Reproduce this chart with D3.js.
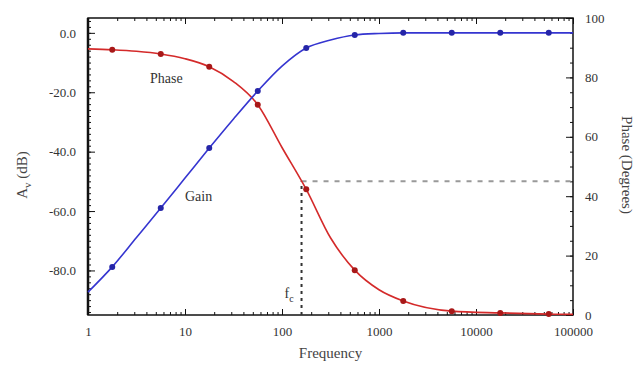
<!DOCTYPE html>
<meta charset="utf-8">
<script src="https://d3js.org/d3.v7.min.js"></script>
<body style="margin:0;background:#fff">
<div id="chart"></div>
</body>
<script>
    // frequencies of the plotted markers (half decade apart)
    const markerFreq = [1.778, 5.623, 17.78, 56.23, 177.8, 562.3, 1778, 5623, 17783, 56234];
    const gainDb = [-78.8, -59.0, -38.8, -19.6, -5.1, -0.7, 0, 0, 0, 0];
    const phaseDeg = [89.3, 87.9, 83.6, 70.8, 42.3, 15.1, 4.7, 1.3, 0.7, 0.3];

    // points
    const curveFreq = [1, 1.778, 3.162, 5.623, 10, 17.78, 31.62, 56.23, 100, 177.8, 316.2, 562.3, 1000, 1778, 5623, 17783, 56234, 100000];
    const gainCurve = [-87.3, -78.8, -68.9, -59.0, -48.9, -38.8, -29.0, -19.6, -11.2, -5.1, -2.4, -0.7, -0.2, 0, 0, 0, 0, 0];
    const phaseCurve = [89.6, 89.3, 88.8, 87.9, 86.3, 83.6, 78.6, 70.8, 56.4, 42.3, 26.0, 15.1, 8.5, 4.7, 1.3, 0.7, 0.3, 0.2];

    const cornerFreq = 159;
    const cornerPhase = 45;

    const xTicks = [1, 10, 100, 1000, 10000, 100000];
    const gainTicks = [0, -20, -40, -60, -80];
    const phaseTicks = [0, 20, 40, 60, 80, 100];

    const W = 636, H = 365;
    const margin = {top: 18, right: 63, bottom: 50, left: 88};
    const width = W - margin.left - margin.right,
        height = H - margin.top - margin.bottom;

    const FONT = "'Liberation Serif', 'Times New Roman', serif";
    const RED = "#d42a2a", BLUE = "#3535d0";

    const svg = d3.select("#chart").append("svg")
        .attr("width", W)
        .attr("height", H)
        .style("font-family", FONT);
    const g = svg.append("g")
        .attr("transform", "translate(" + margin.left + "," + margin.top + ")");

    const x = d3.scaleLog().domain([1, 100000]).range([0, width]);
    const yL = d3.scaleLinear().domain([-95, 5]).range([height, 0]);
    const yR = d3.scaleLinear().domain([0, 100]).range([height, 0]);

    // minor log ticks
    const minorX = [];
    for (let d = 1; d < 100000; d *= 10) {
        for (let k = 2; k <= 9; k++) minorX.push(d * k);
    }

    function styleAxis(sel) {
        sel.attr("font-family", FONT);
        sel.selectAll("text").style("font-family", FONT).style("font-size", "13px").attr("fill", "#333");
        sel.selectAll("line").attr("stroke", "#111");
        sel.select(".domain").remove();
    }

    // bottom axis
    g.append("g").attr("transform", "translate(0," + height + ")")
        .call(d3.axisBottom(x).tickValues(minorX).tickSize(-3).tickFormat(""))
        .call(styleAxis);
    g.append("g").attr("transform", "translate(0," + height + ")")
        .call(d3.axisBottom(x).tickValues(xTicks).tickSize(-6).tickPadding(12).tickFormat(d3.format("d")))
        .call(styleAxis);
    // top axis mirror
    g.append("g")
        .call(d3.axisTop(x).tickValues(minorX).tickSize(-3).tickFormat(""))
        .call(styleAxis);
    g.append("g")
        .call(d3.axisTop(x).tickValues(xTicks).tickSize(-6).tickFormat(""))
        .call(styleAxis);

    // left axis
    g.append("g")
        .call(d3.axisLeft(yL).tickValues(d3.range(-94, 5, 2)).tickSize(-3).tickFormat(""))
        .call(styleAxis);
    g.append("g")
        .call(d3.axisLeft(yL).tickValues(gainTicks).tickSize(-7).tickPadding(12)
            .tickFormat(d => d.toFixed(1)))
        .call(styleAxis);

    // right axis
    g.append("g").attr("transform", "translate(" + width + ",0)")
        .call(d3.axisRight(yR).tickValues(d3.range(0, 101, 5)).tickSize(-3).tickFormat(""))
        .call(styleAxis);
    g.append("g").attr("transform", "translate(" + width + ",0)")
        .call(d3.axisRight(yR).tickValues(phaseTicks).tickSize(-7).tickPadding(12))
        .call(styleAxis);

    // frame
    g.append("rect")
        .attr("width", width).attr("height", height)
        .attr("fill", "none").attr("stroke", "#111").attr("stroke-width", 1.5);
    g.append("line")
        .attr("x1", 0).attr("x2", 0).attr("y1", 0).attr("y2", height)
        .attr("stroke", "#111").attr("stroke-width", 2.5);

    // corner frequency guides
    g.append("line")
        .attr("x1", x(cornerFreq)).attr("x2", x(cornerFreq))
        .attr("y1", yR(0)).attr("y2", yR(cornerPhase))
        .attr("stroke", "#333").attr("stroke-width", 2).attr("stroke-dasharray", "3,4");
    g.append("line")
        .attr("x1", x(cornerFreq)).attr("x2", width)
        .attr("y1", yR(cornerPhase)).attr("y2", yR(cornerPhase))
        .attr("stroke", "#999").attr("stroke-width", 2).attr("stroke-dasharray", "5,6");

    const gainLine = d3.line()
        .x((d, i) => x(curveFreq[i]))
        .y(d => yL(d))
        .curve(d3.curveMonotoneX);
    const phaseLine = d3.line()
        .x((d, i) => x(curveFreq[i]))
        .y(d => yR(d))
        .curve(d3.curveMonotoneX);

    g.append("path").datum(phaseCurve)
        .attr("d", phaseLine)
        .attr("fill", "none").attr("stroke", RED).attr("stroke-width", 1.6);
    g.append("path").datum(gainCurve)
        .attr("d", gainLine)
        .attr("fill", "none").attr("stroke", BLUE).attr("stroke-width", 1.6);

    g.selectAll(".pm").data(phaseDeg).enter().append("circle")
        .attr("cx", (d, i) => x(markerFreq[i]))
        .attr("cy", d => yR(d))
        .attr("r", 3)
        .attr("fill", "#a81818");
    g.selectAll(".gm").data(gainDb).enter().append("circle")
        .attr("cx", (d, i) => x(markerFreq[i]))
        .attr("cy", d => yL(d))
        .attr("r", 3)
        .attr("fill", "#2525a8");

    // annotations
    g.append("text").attr("x", 150 - margin.left).attr("y", 83 - margin.top)
        .style("font-size", "14px").attr("fill", "#333").text("Phase");
    g.append("text").attr("x", 185 - margin.left).attr("y", 201 - margin.top)
        .style("font-size", "14px").attr("fill", "#333").text("Gain");
    const fc = g.append("text").attr("x", x(cornerFreq) - 17).attr("y", 298 - margin.top)
        .style("font-size", "14px").attr("fill", "#333");
    fc.append("tspan").text("f");
    fc.append("tspan").attr("dy", 4).style("font-size", "10px").text("c");

    // axis titles
    svg.append("text")
        .attr("x", margin.left + width / 2).attr("y", 358)
        .attr("text-anchor", "middle").style("font-size", "15px").attr("fill", "#444")
        .text("Frequency");
    const yt = svg.append("text")
        .attr("transform", "translate(27,175) rotate(-90)")
        .attr("text-anchor", "middle").style("font-size", "15px").attr("fill", "#444");
    yt.append("tspan").text("A");
    yt.append("tspan").attr("dy", 4).style("font-size", "11px").text("v");
    yt.append("tspan").attr("dy", -4).text(" (dB)");
    svg.append("text")
        .attr("transform", "translate(622,165) rotate(90)")
        .attr("text-anchor", "middle").style("font-size", "15px").attr("fill", "#444")
        .text("Phase (Degrees)");
</script>
</html>
